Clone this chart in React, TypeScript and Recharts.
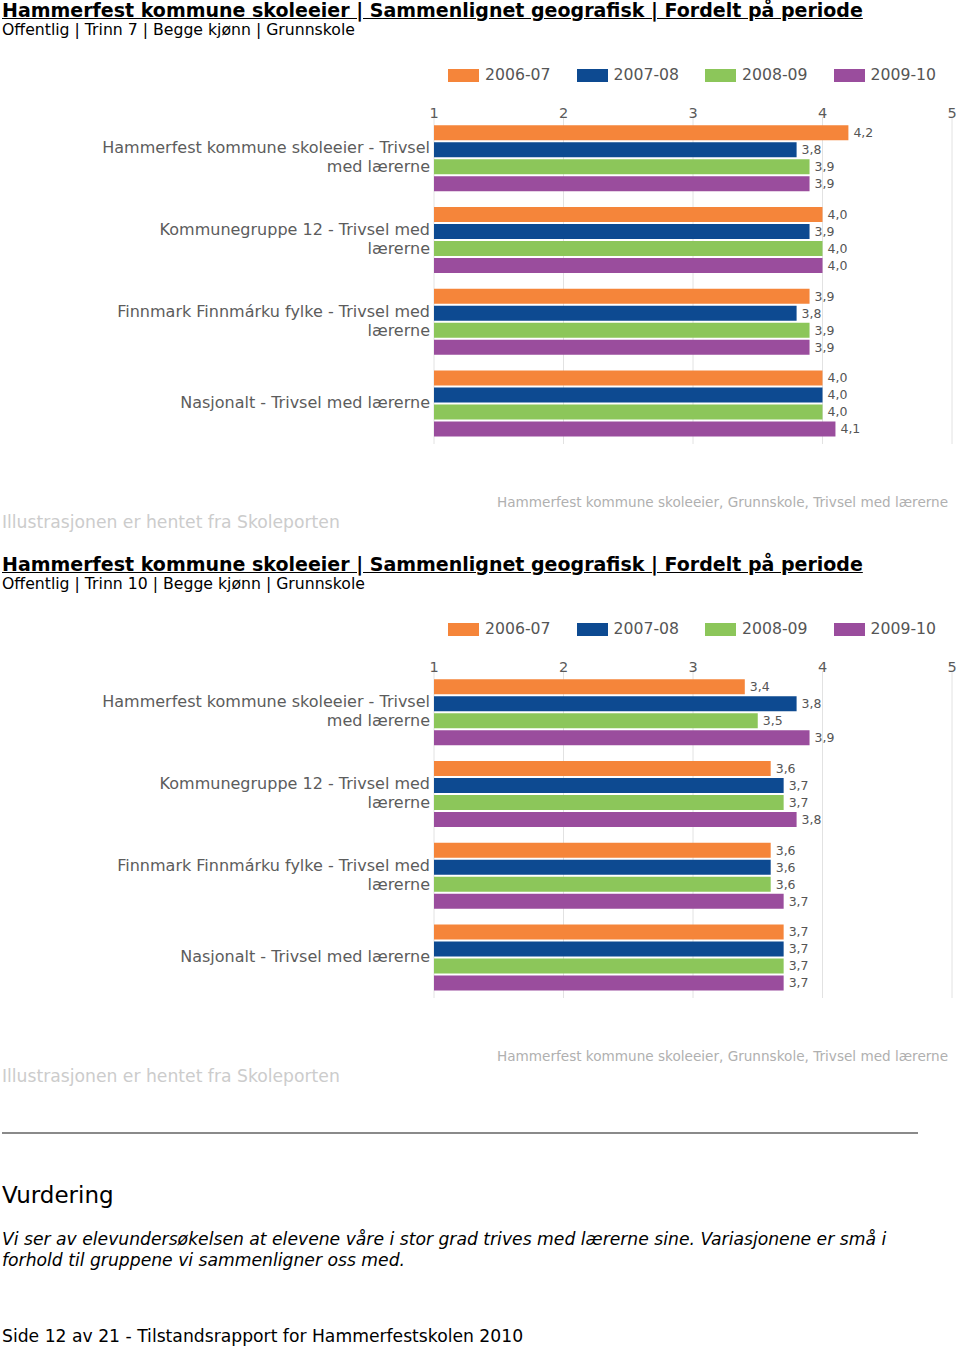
import React from "react";
import { BarChart, Bar, XAxis, YAxis, CartesianGrid, LabelList } from "recharts";

const CATEGORIES = [
  "Hammerfest kommune skoleeier - Trivsel med lærerne",
  "Kommunegruppe 12 - Trivsel med lærerne",
  "Finnmark Finnmárku fylke - Trivsel med lærerne",
  "Nasjonalt - Trivsel med lærerne",
];
const CATEGORY_LINES = [
  ["Hammerfest kommune skoleeier - Trivsel", "med lærerne"],
  ["Kommunegruppe 12 - Trivsel med", "lærerne"],
  ["Finnmark Finnmárku fylke - Trivsel med", "lærerne"],
  ["Nasjonalt - Trivsel med lærerne"],
];
const PERIODS = ["2006-07", "2007-08", "2008-09", "2009-10"];
const COLORS = ["#F5853A", "#0D4A91", "#8CC65A", "#9A4D9D"];
const X_TICKS = [1, 2, 3, 4, 5];

const TRINN7_2006_07 = [4.2, 4.0, 3.9, 4.0];
const TRINN7_2007_08 = [3.8, 3.9, 3.8, 4.0];
const TRINN7_2008_09 = [3.9, 4.0, 3.9, 4.0];
const TRINN7_2009_10 = [3.9, 4.0, 3.9, 4.1];

const TRINN10_2006_07 = [3.4, 3.6, 3.6, 3.7];
const TRINN10_2007_08 = [3.8, 3.7, 3.6, 3.7];
const TRINN10_2008_09 = [3.5, 3.7, 3.6, 3.7];
const TRINN10_2009_10 = [3.9, 3.8, 3.7, 3.7];

const TITLE = "Hammerfest kommune skoleeier | Sammenlignet geografisk | Fordelt på periode";
const SUBTITLE_7 = "Offentlig | Trinn 7 | Begge kjønn | Grunnskole";
const SUBTITLE_10 = "Offentlig | Trinn 10 | Begge kjønn | Grunnskole";
const SOURCE_NOTE = "Illustrasjonen er hentet fra Skoleporten";
const CHART_NOTE = "Hammerfest kommune skoleeier, Grunnskole, Trivsel med lærerne";

const FONT = "'DejaVu Sans', Verdana, sans-serif";

function buildData(series: number[][]) {
  return CATEGORIES.map((name, i) => {
    const row: any = { name, idx: i };
    series.forEach((s, k) => {
      row["p" + k] = s[i];
    });
    return row;
  });
}

const fmt = (v: any) => Number(v).toFixed(1).replace(".", ",");

const YTick = (props: any) => {
  const { x, y, payload, index } = props;
  const i = typeof index === "number" ? index : CATEGORIES.indexOf(payload.value);
  const lines = CATEGORY_LINES[i] || [payload.value];
  const lh = 19;
  const start = y - ((lines.length - 1) * lh) / 2 + 5;
  return (
    <text x={x} y={start} textAnchor="end" fill="#5c5c5c" fontSize={16} fontFamily={FONT}>
      {lines.map((l: string, k: number) => (
        <tspan key={k} x={x} dy={k === 0 ? 0 : lh}>
          {l}
        </tspan>
      ))}
    </text>
  );
};

function Section({ top, subtitle, series }: { top: number; subtitle: string; series: number[][] }) {
  const data = buildData(series);
  return (
    <div style={{ position: "absolute", left: 0, top, width: 960, height: 540 }}>
      <div
        style={{
          position: "absolute",
          left: 2,
          top: -1,
          fontFamily: FONT,
          fontWeight: "bold",
          fontSize: 19,
          lineHeight: "22px",
          textDecoration: "underline",
          color: "#000",
          whiteSpace: "nowrap",
        }}
      >
        {TITLE}
      </div>
      <div
        style={{
          position: "absolute",
          left: 2,
          top: 21,
          fontFamily: FONT,
          fontSize: 15.7,
          lineHeight: "18px",
          color: "#000",
          whiteSpace: "nowrap",
        }}
      >
        {subtitle}
      </div>
      {PERIODS.map((p, k) => (
        <div key={p} style={{ position: "absolute", left: 448 + k * 128.5, top: 66, height: 18, whiteSpace: "nowrap" }}>
          <div style={{ position: "absolute", left: 0, top: 3, width: 31, height: 13, background: COLORS[k] }} />
          <div
            style={{
              position: "absolute",
              left: 37,
              top: 0,
              fontFamily: FONT,
              fontSize: 15.7,
              lineHeight: "18px",
              color: "#555",
            }}
          >
            {p}
          </div>
        </div>
      ))}
      <div style={{ position: "absolute", left: 0, top: 95 }}>
        <BarChart
          width={960}
          height={352}
          data={data}
          layout="vertical"
          margin={{ top: 2, right: 8, bottom: 3, left: 0 }}
          barCategoryGap="10%"
          barGap={2}
        >
          <CartesianGrid horizontal={false} vertical={true} stroke="#e2e2e2" />
          <XAxis
            type="number"
            orientation="top"
            domain={[1, 5]}
            ticks={X_TICKS}
            height={20}
            tickSize={0}
            tickMargin={-1}
            axisLine={false}
            tickLine={false}
            interval={0}
            tick={{ fill: "#5a5a5a", fontSize: 14.5, fontFamily: FONT }}
          />
          <YAxis
            type="category"
            dataKey="name"
            width={434}
            tickSize={0}
            tickMargin={4}
            axisLine={false}
            tickLine={false}
            interval={0}
            tick={<YTick />}
          />
          {PERIODS.map((p, k) => (
            <Bar key={p} dataKey={"p" + k} name={p} fill={COLORS[k]} isAnimationActive={false}>
              <LabelList
                dataKey={"p" + k}
                position="right"
                offset={5}
                formatter={fmt}
                fill="#555"
                fontSize={12.5}
                fontFamily={FONT}
              />
            </Bar>
          ))}
        </BarChart>
      </div>
      <div
        style={{
          position: "absolute",
          left: 497,
          top: 494,
          fontFamily: FONT,
          fontSize: 13.6,
          lineHeight: "16px",
          color: "#b0b0b0",
          whiteSpace: "nowrap",
        }}
      >
        {CHART_NOTE}
      </div>
      <div
        style={{
          position: "absolute",
          left: 2,
          top: 512,
          fontFamily: FONT,
          fontSize: 17.2,
          lineHeight: "20px",
          color: "#cccccc",
          whiteSpace: "nowrap",
        }}
      >
        {SOURCE_NOTE}
      </div>
    </div>
  );
}

export default function App() {
  return (
    <div style={{ position: "absolute", left: 0, top: 0, width: 960, height: 1351, background: "#fff", overflow: "hidden" }}>
      <Section top={0} subtitle={SUBTITLE_7} series={[TRINN7_2006_07, TRINN7_2007_08, TRINN7_2008_09, TRINN7_2009_10]} />
      <Section top={554} subtitle={SUBTITLE_10} series={[TRINN10_2006_07, TRINN10_2007_08, TRINN10_2008_09, TRINN10_2009_10]} />
      <div style={{ position: "absolute", left: 2, top: 1132, width: 916, height: 2, background: "#8a8a8a" }} />
      <div style={{ position: "absolute", left: 2, top: 1180, fontFamily: FONT, fontSize: 23, lineHeight: "30px", color: "#000" }}>
        Vurdering
      </div>
      <div
        style={{
          position: "absolute",
          left: 2,
          top: 1229,
          fontFamily: FONT,
          fontSize: 17.2,
          lineHeight: "21px",
          fontStyle: "italic",
          color: "#000",
          whiteSpace: "nowrap",
        }}
      >
        Vi ser av elevundersøkelsen at elevene våre i stor grad trives med lærerne sine. Variasjonene er små i
        <br />
        forhold til gruppene vi sammenligner oss med.
      </div>
      <div
        style={{
          position: "absolute",
          left: 2,
          top: 1326,
          fontFamily: FONT,
          fontSize: 17.2,
          lineHeight: "21px",
          color: "#000",
          whiteSpace: "nowrap",
        }}
      >
        Side 12 av 21 - Tilstandsrapport for Hammerfestskolen 2010
      </div>
    </div>
  );
}
